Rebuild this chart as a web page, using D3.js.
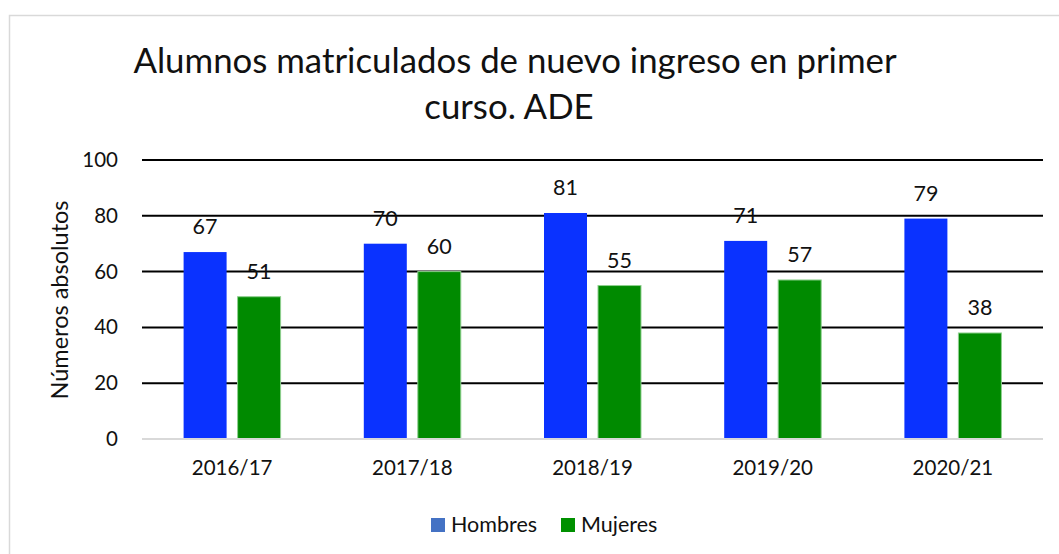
<!DOCTYPE html>
<html>
<head>
<meta charset="utf-8">
<script src="https://cdn.jsdelivr.net/npm/d3@7"></script>
<style>
  body { margin: 0; background: #fff; }
  svg { display: block; font-family: Lato, "Open Sans", sans-serif; }
</style>
</head>
<body>
<svg id="chart"></svg>
<script>
const cursos = ['2016/17', '2017/18', '2018/19', '2019/20', '2020/21']
const hombres = [67, 70, 81, 71, 79]
const mujeres = [51, 60, 55, 57, 38]
const yTicks = [0, 20, 40, 60, 80, 100]
const series = [
  { name: 'Hombres', values: hombres, color: '#0a32ff', legend: '#4472c4' },
  { name: 'Mujeres', values: mujeres, color: '#008a00', legend: '#009000' }
]

const W = 1059, H = 554
const svg = d3.select('#chart').attr('width', W).attr('height', H)

// chart frame
svg.append('rect')
  .attr('x', 9.5).attr('y', 15.5)
  .attr('width', 1100).attr('height', 600)
  .attr('fill', 'none')
  .attr('stroke', '#d9d9d9')
  .attr('stroke-width', 1.5)

const plotLeft = 142, plotRight = 1043, plotTop = 160, plotBottom = 439

const x = d3.scaleBand().domain(cursos).range([plotLeft, plotRight]).padding(0)
const y = d3.scaleLinear().domain([0, 100]).range([plotBottom, plotTop])

// gridlines
svg.append('g')
  .selectAll('line')
  .data(yTicks.filter(d => d > 0))
  .enter().append('line')
  .attr('x1', plotLeft).attr('x2', plotRight)
  .attr('y1', d => y(d)).attr('y2', d => y(d))
  .attr('stroke', '#000')
  .attr('stroke-width', 2)

// y axis labels
const yAxis = d3.axisLeft(y).tickValues(yTicks).tickSize(0).tickPadding(24)
svg.append('g')
  .attr('transform', `translate(${plotLeft},0)`)
  .call(yAxis)
  .call(g => g.select('.domain').remove())
  .selectAll('text')
  .attr('font-size', 20.5)
  .attr('font-family', 'Lato, sans-serif')
  .attr('fill', '#111')

// bars
const barW = 43, gap = 11
series.forEach((s, si) => {
  const off = si === 0 ? -gap / 2 - barW : gap / 2
  const g = svg.append('g')
  g.selectAll('rect')
    .data(s.values)
    .enter().append('rect')
    .attr('x', (d, i) => x(cursos[i]) + x.bandwidth() / 2 + off)
    .attr('y', d => y(d))
    .attr('width', barW)
    .attr('height', d => y(0) - y(d))
    .attr('fill', s.color)
    .attr('stroke', si === 1 ? '#8fd08f' : 'none')
    .attr('stroke-width', 1)
  g.selectAll('text')
    .data(s.values)
    .enter().append('text')
    .attr('x', (d, i) => x(cursos[i]) + x.bandwidth() / 2 + off + barW / 2)
    .attr('y', d => y(d) - 18)
    .attr('text-anchor', 'middle')
    .attr('font-size', 21.5)
    .attr('fill', '#111')
    .text(d => d)
})

// x axis line
svg.append('line')
  .attr('x1', plotLeft).attr('x2', plotRight)
  .attr('y1', y(0)).attr('y2', y(0))
  .attr('stroke', '#d9d9d9')
  .attr('stroke-width', 2)

const xAxis = d3.axisBottom(x).tickSize(0).tickPadding(21)
svg.append('g')
  .attr('transform', `translate(0,${plotBottom})`)
  .call(xAxis)
  .call(g => g.select('.domain').remove())
  .selectAll('text')
  .attr('font-size', 20.5)
  .attr('font-family', 'Lato, sans-serif')
  .attr('fill', '#111')

// title
const title = svg.append('text')
  .attr('text-anchor', 'middle')
  .attr('font-size', 34.8)
  .attr('fill', '#111')
title.append('tspan').attr('x', 515).attr('y', 73).text('Alumnos matriculados de nuevo ingreso en primer')
title.append('tspan').attr('x', 509).attr('y', 119).text('curso. ADE')

// y axis title
svg.append('text')
  .attr('transform', 'translate(68,300) rotate(-90)')
  .attr('text-anchor', 'middle')
  .attr('font-size', 23.5)
  .attr('fill', '#111')
  .text('Números absolutos')

// legend
const legendX = [431, 561]
const legend = svg.append('g')
series.forEach((s, i) => {
  legend.append('rect')
    .attr('x', legendX[i]).attr('y', 518)
    .attr('width', 14).attr('height', 14)
    .attr('fill', s.legend)
  legend.append('text')
    .attr('x', legendX[i] + 20).attr('y', 532)
    .attr('font-size', 21.5)
    .attr('fill', '#111')
    .text(s.name)
})
</script>
</body>
</html>
